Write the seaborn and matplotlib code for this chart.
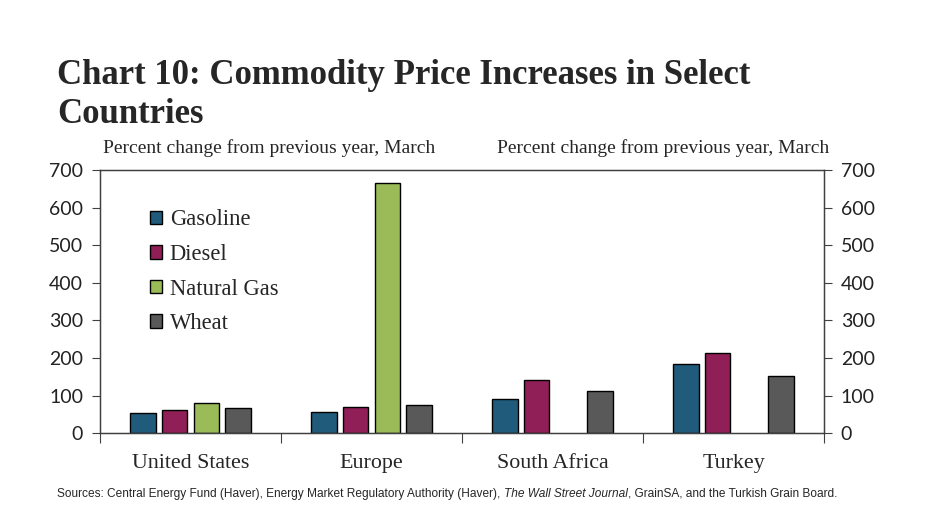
import numpy as np
import pandas as pd
import matplotlib.pyplot as plt
import seaborn as sns

countries = ['United States', 'Europe', 'South Africa', 'Turkey']
commodities = ['Gasoline', 'Diesel', 'Natural Gas', 'Wheat']
gasoline = [54, 56, 92, 185]
diesel = [62, 69, 141, 213]
natural_gas = [81, 665, np.nan, np.nan]
wheat = [66, 74, 111, 152]
colors = ['#215b7b', '#8f1f56', '#9bbb59', '#595959']

df = pd.DataFrame({'Gasoline': gasoline, 'Diesel': diesel,
                   'Natural Gas': natural_gas, 'Wheat': wheat}, index=countries)
df = df.reset_index().melt(id_vars='index', var_name='commodity', value_name='pct')
df = df.rename(columns={'index': 'country'})

sns.set_style('white')
plt.rcParams['font.family'] = ['Liberation Serif', 'DejaVu Serif']

fig = plt.figure(figsize=[9.25, 5.2], dpi=100)
ax = fig.add_axes([0.108, 0.167, 0.783, 0.506])

sns.barplot(data=df, x='country', y='pct', hue='commodity', order=countries,
            hue_order=commodities, palette=colors, width=0.7, gap=0.2,
            saturation=1, edgecolor='black', linewidth=1, ax=ax)

ax.set_ylim(0, 700)
ax.set_xlim(-0.5, 3.5)
ax.set_yticks(range(0, 701, 100))
ax.set_xlabel('')
ax.set_ylabel('')
for s in ax.spines.values():
    s.set_color('#404040')
    s.set_linewidth(1)

# separators between the country groups
ax.set_xticks([-0.5, 0.5, 1.5, 2.5, 3.5], minor=False)
ax.set_xticklabels([])
ax.set_xticks(range(4), minor=True)
ax.set_xticklabels(countries, minor=True, fontsize=15.8)
ax.tick_params(axis='x', which='major', direction='out', length=7, color='#404040', bottom=True)
ax.tick_params(axis='x', which='minor', length=0, pad=15)
ax.tick_params(axis='y', direction='out', length=6, color='#404040', left=True,
               labelsize=14, pad=6, labelcolor='#222222')
for t in ax.get_yticklabels():
    t.set_family(['Lato', 'DejaVu Sans'])

ax2 = ax.twinx()
ax2.set_ylim(0, 700)
ax2.set_yticks(range(0, 701, 100))
ax2.tick_params(axis='y', direction='out', length=6, color='#404040', right=True,
                labelsize=14, pad=6, labelcolor='#222222')
for t in ax2.get_yticklabels():
    t.set_family(['Lato', 'DejaVu Sans'])
for s in ax2.spines.values():
    s.set_color('#404040')

leg = ax.legend(loc='upper left', bbox_to_anchor=(0.056, 0.885), frameon=False,
                fontsize=16.3, handlelength=0.55, handleheight=0.55,
                handletextpad=0.35, labelspacing=0.6, borderaxespad=0)

fig.text(0.062, 0.838, 'Chart 10: Commodity Price Increases in Select', fontsize=25,
         fontweight='bold', va='baseline')
fig.text(0.062, 0.764, 'Countries', fontsize=25, fontweight='bold', va='baseline')
fig.text(0.111, 0.705, 'Percent change from previous year, March', fontsize=14, va='baseline')
fig.text(0.896, 0.705, 'Percent change from previous year, March', fontsize=14,
         va='baseline', ha='right')

foot = ['Liberation Sans Narrow', 'Liberation Sans', 'DejaVu Sans']
t1 = fig.text(0.062, 0.045, 'Sources: Central Energy Fund (Haver), Energy Market Regulatory Authority (Haver), ',
              fontsize=8.6, family=foot, va='baseline')
t2 = fig.text(0, 0, 'The Wall Street Journal', fontsize=8.6, family=foot, style='italic',
              va='baseline')
t3 = fig.text(0, 0, ', GrainSA, and the Turkish Grain Board.', fontsize=8.6, family=foot,
              va='baseline')
fig.canvas.draw()
r = fig.canvas.get_renderer()
inv = fig.transFigure.inverted()
x1 = inv.transform((t1.get_window_extent(r).x1, 0))[0]
t2.set_position((x1, 0.045))
fig.canvas.draw()
x2 = inv.transform((t2.get_window_extent(r).x1, 0))[0]
t3.set_position((x2, 0.045))

fig.savefig('out.png', dpi=100)
